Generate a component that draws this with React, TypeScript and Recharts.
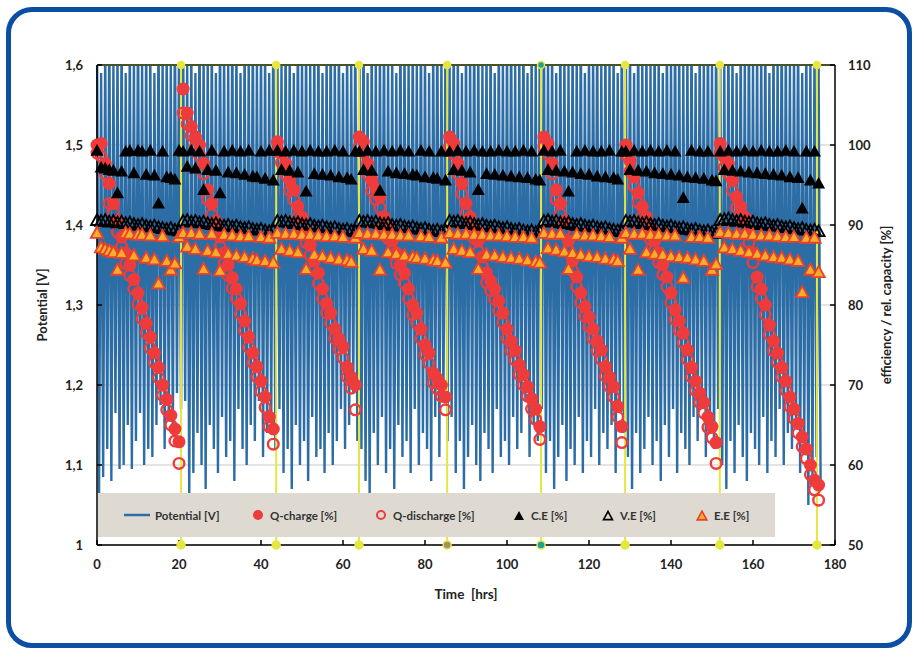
import React from 'react';
import { ComposedChart, Line, Scatter, XAxis, YAxis, CartesianGrid, ReferenceLine, ReferenceDot } from 'recharts';

// one cycle per hour; index = time [hrs]
const potentialPeak = [
  1.64, 1.59, 1.63, 1.66, 1.60, 1.62, 1.65, 1.59, 1.63, 1.61, 1.66, 1.60, 1.64, 1.62, 1.59, 1.65, 1.61, 1.63, 1.60, 1.66, 1.62,
  1.65, 1.60, 1.63, 1.59, 1.66, 1.62, 1.61, 1.64, 1.59, 1.65, 1.62, 1.60, 1.66, 1.63, 1.59, 1.64, 1.61, 1.65, 1.60, 1.63, 1.62, 1.59, 1.66,
  1.63, 1.60, 1.65, 1.62, 1.59, 1.66, 1.61, 1.64, 1.60, 1.63, 1.65, 1.59, 1.62, 1.66, 1.61, 1.64, 1.59, 1.63, 1.60, 1.65,
  1.62, 1.66, 1.59, 1.64, 1.61, 1.63, 1.65, 1.60, 1.62, 1.59, 1.66, 1.63, 1.61, 1.64, 1.60, 1.65, 1.62, 1.59, 1.63, 1.66, 1.61, 1.64,
  1.60, 1.65, 1.62, 1.59, 1.64, 1.61, 1.66, 1.63, 1.60, 1.62, 1.65, 1.59, 1.64, 1.61, 1.63, 1.66, 1.60, 1.62, 1.65, 1.59, 1.63, 1.61, 1.64,
  1.66, 1.61, 1.63, 1.59, 1.65, 1.62, 1.60, 1.64, 1.61, 1.66, 1.59, 1.63, 1.62, 1.65, 1.60, 1.64, 1.61, 1.63, 1.59, 1.65,
  1.62, 1.64, 1.59, 1.66, 1.61, 1.63, 1.60, 1.65, 1.62, 1.59, 1.64, 1.61, 1.66, 1.63, 1.60, 1.62, 1.65, 1.59, 1.63, 1.61, 1.66, 1.60, 1.64,
  1.63, 1.60, 1.65, 1.62, 1.59, 1.64, 1.61, 1.66, 1.60, 1.63, 1.62, 1.65, 1.59, 1.64, 1.61, 1.66, 1.63, 1.60, 1.62, 1.65, 1.59, 1.64, 1.61, 1.63, 1.60,
];

const potentialMin = [
  1.065, 1.085, 1.12, 1.08, 1.165, 1.095, 1.10, 1.15, 1.095, 1.13, 1.165, 1.10, 1.12, 1.11, 1.15, 1.175, 1.12, 1.16, 1.14, 1.19, 1.17,
  1.18, 1.06, 1.09, 1.14, 1.10, 1.07, 1.15, 1.12, 1.09, 1.16, 1.11, 1.13, 1.08, 1.17, 1.12, 1.10, 1.15, 1.13, 1.18, 1.11, 1.14, 1.16, 1.12,
  1.17, 1.09, 1.12, 1.07, 1.15, 1.10, 1.13, 1.08, 1.16, 1.11, 1.12, 1.09, 1.14, 1.10, 1.13, 1.17, 1.12, 1.15, 1.19, 1.13,
  1.12, 1.08, 1.06, 1.14, 1.10, 1.16, 1.09, 1.12, 1.07, 1.15, 1.11, 1.13, 1.09, 1.17, 1.10, 1.14, 1.12, 1.08, 1.16, 1.11, 1.18, 1.13,
  1.16, 1.09, 1.13, 1.07, 1.11, 1.15, 1.10, 1.08, 1.14, 1.12, 1.09, 1.17, 1.11, 1.13, 1.10, 1.16, 1.12, 1.14, 1.18, 1.11, 1.15, 1.13, 1.17,
  1.09, 1.13, 1.07, 1.11, 1.15, 1.08, 1.12, 1.10, 1.16, 1.09, 1.13, 1.11, 1.17, 1.10, 1.14, 1.12, 1.15, 1.09, 1.18, 1.14,
  1.11, 1.07, 1.14, 1.09, 1.12, 1.16, 1.10, 1.13, 1.08, 1.15, 1.11, 1.17, 1.09, 1.14, 1.12, 1.10, 1.16, 1.13, 1.18, 1.11, 1.15, 1.12, 1.17,
  1.10, 1.07, 1.13, 1.09, 1.15, 1.11, 1.08, 1.14, 1.12, 1.10, 1.16, 1.09, 1.13, 1.11, 1.17, 1.10, 1.14, 1.12, 1.15, 1.09, 1.13, 1.05, 1.08, 1.11, 1.07,
];

const qCharge = [
  100.0, 100.2, 97.7, 95.2, 92.7, 90.5, 88.5, 86.5, 85.0, 83.2, 81.5, 79.7, 77.7, 76.0, 74.0, 72.2, 70.0, 68.2, 66.2, 64.5, 62.9,
  107.0, 104.0, 102.3, 101.0, 100.0, 97.7, 94.4, 92.7, 90.5, 88.5, 86.5, 85.0, 83.4, 82.0, 80.2, 78.0, 76.0, 74.0, 72.3, 70.5, 68.5, 66.0, 64.5,
  100.4, 99.0, 97.7, 95.6, 94.4, 92.3, 91.0, 89.0, 87.5, 85.5, 84.0, 82.0, 80.2, 79.0, 77.0, 75.8, 74.8, 72.2, 71.0, 70.0,
  101.0, 100.4, 97.7, 95.6, 94.5, 93.5, 91.0, 89.5, 88.0, 86.5, 85.0, 84.0, 82.0, 80.0, 79.0, 77.0, 75.0, 74.0, 71.5, 70.8, 70.0, 68.5,
  101.0, 100.2, 97.7, 95.2, 92.7, 91.0, 89.5, 88.0, 86.0, 84.0, 83.0, 82.0, 80.5, 79.0, 77.0, 75.5, 74.3, 72.5, 71.3, 69.8, 68.3, 67.0, 64.8,
  101.0, 100.2, 97.7, 94.4, 92.7, 90.5, 88.0, 85.5, 83.5, 81.5, 79.8, 78.5, 77.0, 75.5, 74.4, 72.3, 71.0, 69.8, 67.3, 64.8,
  100.0, 98.0, 96.0, 94.0, 92.3, 91.0, 89.5, 88.0, 86.5, 85.0, 83.5, 81.5, 79.4, 78.0, 76.5, 74.4, 72.2, 70.5, 69.0, 67.8, 66.0, 64.8, 62.8,
  100.2, 98.5, 97.7, 95.6, 93.5, 92.3, 91.0, 89.0, 86.5, 83.5, 82.0, 80.0, 77.5, 75.5, 74.0, 72.2, 70.5, 68.5, 67.0, 65.2, 63.5, 62.0, 60.0, 58.1, 57.5,
];

const qDischarge = [
  99.0, 98.6, 96.4, 92.7, 91.5, 89.1, 87.3, 85.2, 83.7, 82.0, 80.1, 78.3, 76.5, 74.6, 72.8, 70.9, 68.7, 66.9, 65.0, 63.0, 60.2,
  104.0, 102.6, 101.2, 99.8, 98.7, 96.4, 93.2, 91.3, 89.2, 87.3, 85.2, 83.7, 82.1, 80.8, 78.9, 76.8, 74.7, 72.8, 71.0, 69.2, 67.2, 64.8, 62.6,
  99.2, 97.8, 96.3, 94.3, 93.1, 91.0, 89.7, 87.8, 86.2, 84.3, 82.7, 80.8, 79.0, 77.7, 75.8, 74.5, 73.4, 71.0, 69.6, 66.9,
  99.8, 99.1, 96.4, 94.3, 93.2, 92.2, 89.8, 88.3, 86.8, 85.2, 83.8, 82.7, 80.8, 78.8, 77.7, 75.8, 73.8, 72.7, 70.3, 69.5, 68.6, 66.9,
  99.8, 98.9, 96.4, 93.9, 91.5, 89.7, 88.3, 86.7, 84.8, 82.8, 81.8, 80.7, 79.3, 77.8, 75.8, 74.3, 73.1, 71.3, 70.0, 68.6, 67.0, 65.7, 63.2,
  99.8, 98.9, 96.4, 93.2, 91.4, 89.3, 86.8, 84.3, 82.3, 80.3, 78.6, 77.3, 75.8, 74.3, 73.2, 71.1, 69.8, 68.5, 66.0, 62.8,
  98.8, 96.7, 94.8, 92.8, 91.0, 89.7, 88.2, 86.8, 85.3, 83.8, 82.3, 80.3, 78.2, 76.8, 75.3, 73.2, 71.0, 69.3, 67.8, 66.5, 64.7, 63.4, 60.2,
  99.0, 97.2, 96.4, 94.3, 92.2, 91.0, 89.7, 87.8, 85.3, 82.3, 80.8, 78.8, 76.3, 74.3, 72.8, 71.0, 69.3, 67.3, 65.8, 64.0, 62.3, 60.8, 58.8, 56.9, 55.6,
];

const coulombEff = [
  99.3, 97.2, 97.1, 96.9, 96.8, 94.0, 96.7, 99.2, 99.3, 96.5, 99.3, 99.2, 96.3, 99.3, 96.2, 92.7, 99.2, 96.0, 95.9, 95.7, 99.3,
  99.2, 97.3, 99.3, 97.1, 99.2, 94.4, 96.9, 99.3, 96.8, 94.0, 99.2, 96.6, 99.3, 96.5, 99.2, 96.3, 99.3, 96.1, 96.0, 99.2, 95.8, 99.3, 95.6,
  99.3, 96.9, 99.2, 96.8, 99.3, 96.6, 99.2, 94.2, 99.3, 96.4, 99.2, 96.3, 99.2, 96.2, 99.3, 96.0, 99.2, 95.9, 95.7, 99.2,
  99.2, 96.9, 99.3, 96.8, 99.2, 94.3, 99.3, 96.7, 99.2, 96.5, 99.3, 96.4, 99.2, 96.3, 96.2, 99.3, 96.0, 99.2, 95.9, 95.8, 99.2, 95.6,
  99.2, 96.9, 99.3, 96.8, 99.2, 96.6, 99.3, 94.4, 99.2, 96.4, 99.2, 96.3, 99.3, 96.2, 99.2, 96.1, 99.2, 96.0, 99.3, 95.9, 99.2, 95.7, 95.6,
  99.3, 96.9, 99.2, 96.8, 99.3, 96.7, 94.2, 96.6, 99.2, 96.4, 99.3, 96.3, 99.2, 96.1, 99.2, 96.0, 99.3, 95.9, 95.7, 99.2,
  99.2, 96.9, 99.3, 96.8, 99.2, 96.7, 99.3, 96.5, 99.2, 96.4, 99.3, 96.3, 99.2, 96.2, 93.4, 96.0, 99.3, 95.9, 99.2, 95.8, 99.2, 95.6, 95.5,
  99.2, 96.9, 99.3, 96.8, 99.2, 96.7, 99.3, 96.6, 99.2, 96.5, 99.3, 96.4, 99.2, 96.3, 99.2, 96.2, 99.3, 96.0, 99.2, 95.9, 92.1, 99.2, 95.6, 99.2, 95.2,
];

const voltageEff = [
  90.6, 90.5, 90.6, 90.4, 90.5, 90.3, 90.4, 90.2, 90.3, 90.1, 90.0, 90.1, 89.9, 89.8, 89.9, 89.7, 89.6, 89.5, 89.6, 89.4, 89.3,
  90.5, 90.6, 90.4, 90.5, 90.3, 90.4, 90.2, 90.1, 90.2, 90.0, 89.9, 90.0, 89.8, 89.9, 89.7, 89.6, 89.7, 89.5, 89.4, 89.5, 89.3, 89.2, 89.3,
  90.5, 90.4, 90.5, 90.3, 90.2, 90.3, 90.1, 90.0, 90.1, 89.9, 89.8, 89.9, 89.7, 89.6, 89.7, 89.5, 89.4, 89.5, 89.3, 89.2,
  90.5, 90.4, 90.5, 90.3, 90.4, 90.2, 90.1, 90.2, 90.0, 89.9, 90.0, 89.8, 89.7, 89.8, 89.6, 89.5, 89.6, 89.4, 89.3, 89.4, 89.2, 89.3,
  90.5, 90.4, 90.5, 90.3, 90.2, 90.3, 90.1, 90.0, 90.1, 89.9, 89.8, 89.9, 89.7, 89.6, 89.7, 89.5, 89.4, 89.5, 89.3, 89.2, 89.3, 89.1, 89.2,
  90.5, 90.6, 90.4, 90.5, 90.3, 90.2, 90.3, 90.1, 90.0, 90.1, 89.9, 89.8, 89.9, 89.7, 89.6, 89.7, 89.5, 89.4, 89.3, 89.2,
  90.5, 90.4, 90.5, 90.3, 90.2, 90.3, 90.1, 90.0, 90.1, 89.9, 89.8, 89.9, 89.7, 89.6, 89.7, 89.5, 89.4, 89.5, 89.3, 89.2, 89.3, 89.1, 89.0,
  90.6, 90.7, 90.8, 90.6, 90.5, 90.6, 90.4, 90.3, 90.4, 90.2, 90.1, 90.2, 90.0, 89.9, 90.0, 89.8, 89.7, 89.8, 89.6, 89.5, 89.6, 89.4, 89.3, 89.4, 89.2,
];

const energyEff = [
  89.0, 87.2, 87.0, 86.8, 86.6, 84.4, 86.5, 89.0, 88.9, 86.2, 88.8, 88.8, 85.9, 88.7, 85.7, 82.7, 88.6, 85.5, 84.4, 85.2, 88.5,
  89.0, 87.3, 89.0, 87.0, 88.9, 84.5, 86.8, 88.9, 86.6, 84.3, 88.8, 86.4, 88.7, 86.2, 88.6, 86.0, 88.6, 85.8, 85.6, 88.5, 85.5, 88.4, 85.3,
  89.0, 87.0, 88.9, 86.8, 88.9, 86.6, 88.8, 84.5, 88.8, 86.3, 88.7, 86.1, 88.6, 85.9, 88.6, 85.7, 88.5, 85.6, 85.4, 88.4,
  89.0, 87.0, 88.9, 86.8, 88.9, 84.4, 88.8, 86.6, 88.8, 86.4, 88.7, 86.2, 88.7, 86.0, 85.9, 88.6, 85.8, 88.5, 85.6, 85.5, 88.4, 85.3,
  89.0, 87.0, 88.9, 86.8, 88.9, 86.6, 88.8, 84.5, 88.8, 86.3, 88.7, 86.2, 88.7, 86.0, 88.6, 85.9, 88.5, 85.8, 88.5, 85.6, 88.4, 85.4, 85.3,
  89.0, 87.1, 88.9, 86.9, 88.9, 86.7, 84.5, 86.5, 88.8, 86.3, 88.7, 86.1, 88.7, 86.0, 88.6, 85.8, 88.5, 85.7, 85.5, 88.4,
  89.0, 87.0, 88.9, 84.4, 88.9, 86.6, 88.8, 86.4, 88.8, 86.3, 88.7, 86.1, 88.7, 86.0, 83.4, 85.9, 88.5, 85.7, 88.5, 85.5, 88.4, 84.4, 85.1,
  89.1, 87.2, 89.0, 87.0, 88.9, 86.8, 88.9, 86.6, 88.8, 86.4, 88.7, 86.2, 88.7, 86.0, 88.6, 85.9, 88.5, 85.7, 88.5, 85.5, 81.6, 88.4, 84.4, 88.4, 84.1,
];

const potentialTicks = [1, 1.1, 1.2, 1.3, 1.4, 1.5, 1.6];
const percentTicks = [50, 60, 70, 80, 90, 100, 110];
const timeTicks = [0, 20, 40, 60, 80, 100, 120, 140, 160, 180];
const weekMarks = [20.5, 43.7, 63.9, 85.4, 108.3, 128.8, 151.9, 175.6];

const potentialData = potentialMin.flatMap((low, i) => [
  { t: i, v: potentialPeak[i] },
  { t: i + 0.5, v: low },
]);
const toPoints = (arr: number[]) => arr.map((v, i) => ({ t: i, v }));

const BLUE = '#2d6da6';
const RED = '#ee3b3b';
const ORANGE = '#f7ad2a';
const YELLOW = '#e6e640';

const triPoints = (cx: number, cy: number, s: number) =>
  `${cx},${cy - s} ${cx - s},${cy + s * 0.8} ${cx + s},${cy + s * 0.8}`;

const FilledDot = (p: any) => <circle cx={p.cx} cy={p.cy} r={6.5} fill={RED} />;
const HollowDot = (p: any) => (
  <circle cx={p.cx} cy={p.cy} r={5.3} fill="none" stroke={RED} strokeWidth={2.4} />
);
const BlackTri = (p: any) => <polygon points={triPoints(p.cx, p.cy, 6.5)} fill="#000" />;
const HollowTri = (p: any) => (
  <polygon points={triPoints(p.cx, p.cy, 6)} fill="none" stroke="#000" strokeWidth={1.8} />
);
const OrangeTri = (p: any) => (
  <polygon points={triPoints(p.cx, p.cy, 6.2)} fill={ORANGE} stroke="#e8412d" strokeWidth={1.8} />
);

const tickStyle = { fontSize: 13, fontWeight: 700, fill: '#222', fontFamily: 'Lato, sans-serif' };
const axisStyle = { stroke: '#000', strokeWidth: 1.5 };

const legendItems = [
  { label: 'Potential [V]', icon: 'line', x: 124 },
  { label: 'Q-charge [%]', icon: 'dot', x: 251 },
  { label: 'Q-discharge [%]', icon: 'ring', x: 374 },
  { label: 'C.E [%]', icon: 'tri', x: 512 },
  { label: 'V.E [%]', icon: 'otri', x: 601 },
  { label: 'E.E [%]', icon: 'etri', x: 695 },
];

const LegendIcon = ({ kind }: { kind: string }) => {
  const w = kind === 'line' ? 26 : 14;
  return (
    <svg width={w} height={14} style={{ marginRight: 5, flex: 'none' }}>
      {kind === 'line' && <line x1={0} y1={7} x2={26} y2={7} stroke={BLUE} strokeWidth={2.5} />}
      {kind === 'dot' && <circle cx={7} cy={7} r={5} fill={RED} />}
      {kind === 'ring' && <circle cx={7} cy={7} r={4} fill="none" stroke={RED} strokeWidth={2} />}
      {kind === 'tri' && <polygon points={triPoints(7, 8, 5)} fill="#000" />}
      {kind === 'otri' && <polygon points={triPoints(7, 8, 4.5)} fill="none" stroke="#000" strokeWidth={1.6} />}
      {kind === 'etri' && <polygon points={triPoints(7, 8, 4.8)} fill={ORANGE} stroke="#e8412d" strokeWidth={1.6} />}
    </svg>
  );
};

export default function App() {
  return (
    <div style={{ position: 'absolute', left: 0, top: 0, width: 913, height: 649, background: '#fff', overflow: 'hidden', fontFamily: 'Lato, sans-serif' }}>
      <div style={{ position: 'absolute', left: 0, top: 0 }}>
        <ComposedChart width={913} height={649} margin={{ top: 65, right: 18, bottom: 74, left: 37 }}>
          <CartesianGrid yAxisId="left" vertical={false} stroke="#c9c9c9" strokeWidth={1} />
          <XAxis
            type="number"
            dataKey="t"
            domain={[0, 180]}
            ticks={timeTicks}
            height={30}
            tick={tickStyle}
            tickSize={-5}
            tickMargin={20}
            tickLine={axisStyle}
            axisLine={axisStyle}
          />
          <YAxis
            yAxisId="left"
            domain={[1, 1.6]}
            ticks={potentialTicks}
            allowDataOverflow
            width={60}
            tick={tickStyle}
            tickSize={-5}
            tickMargin={19}
            tickLine={axisStyle}
            axisLine={axisStyle}
            tickFormatter={(v: number) => (v === 1 ? '1' : v.toFixed(1).replace('.', ','))}
          />
          <YAxis
            yAxisId="right"
            orientation="right"
            domain={[50, 110]}
            ticks={percentTicks}
            allowDataOverflow
            width={60}
            tick={tickStyle}
            tickSize={-5}
            tickMargin={18}
            tickLine={axisStyle}
            axisLine={axisStyle}
          />
          <Line
            yAxisId="left"
            data={potentialData}
            dataKey="v"
            stroke={BLUE}
            strokeWidth={2.4}
            dot={false}
            activeDot={false}
            isAnimationActive={false}
          />
          {weekMarks.map((m) => (
            <ReferenceLine key={`w${m}`} yAxisId="left" x={m} stroke={YELLOW} strokeWidth={2} />
          ))}
          <ReferenceLine yAxisId="left" y={1.6} stroke="#48522a" strokeWidth={2} />
          <Scatter yAxisId="right" data={toPoints(qCharge)} dataKey="v" shape={FilledDot} isAnimationActive={false} />
          <Scatter yAxisId="right" data={toPoints(qDischarge)} dataKey="v" shape={HollowDot} isAnimationActive={false} />
          <Scatter yAxisId="right" data={toPoints(coulombEff)} dataKey="v" shape={BlackTri} isAnimationActive={false} />
          <Scatter yAxisId="right" data={toPoints(voltageEff)} dataKey="v" shape={HollowTri} isAnimationActive={false} />
          <Scatter yAxisId="right" data={toPoints(energyEff)} dataKey="v" shape={OrangeTri} isAnimationActive={false} />
          {weekMarks.map((m, i) => (
            <ReferenceDot
              key={`b${m}`}
              yAxisId="left"
              x={m}
              y={1}
              r={4}
              fill={i === 4 ? '#18a39b' : i === 3 ? '#a3906a' : YELLOW}
              stroke={YELLOW}
              strokeWidth={1.5}
              ifOverflow="visible"
            />
          ))}
          {weekMarks.map((m, i) => (
            <ReferenceDot
              key={`t${m}`}
              yAxisId="left"
              x={m}
              y={1.6}
              r={3.5}
              fill={i === 4 ? '#18a39b' : YELLOW}
              stroke={YELLOW}
              strokeWidth={1.5}
              ifOverflow="visible"
            />
          ))}
        </ComposedChart>
      </div>

      {/* legend box sits inside the plot area */}
      <div style={{ position: 'absolute', left: 98, top: 493, width: 677, height: 44, background: '#dedad1' }}>
        {legendItems.map((it) => (
          <div
            key={it.label}
            style={{ position: 'absolute', left: it.x - 98, top: 15, display: 'flex', alignItems: 'center', fontSize: 11.5, fontWeight: 700, color: '#333', whiteSpace: 'nowrap' }}
          >
            <LegendIcon kind={it.icon} />
            {it.label}
          </div>
        ))}
      </div>

      <div style={{ position: 'absolute', left: 42, top: 305, transform: 'translate(-50%, -50%) rotate(-90deg)', fontSize: 13, fontWeight: 700, color: '#222', whiteSpace: 'nowrap' }}>
        Potential [V]
      </div>
      <div style={{ position: 'absolute', left: 886, top: 305, transform: 'translate(-50%, -50%) rotate(-90deg)', fontSize: 13, fontWeight: 700, color: '#222', whiteSpace: 'nowrap' }}>
        efficiency / rel. capacity [%]
      </div>
      <div style={{ position: 'absolute', left: 466, top: 594, transform: 'translate(-50%, -50%)', fontSize: 13.5, fontWeight: 700, color: '#222', whiteSpace: 'pre' }}>
        {'Time  [hrs]'}
      </div>

      <div style={{ position: 'absolute', left: 6, top: 7, width: 906, height: 641, border: '5px solid #0b4ea2', borderRadius: 26, boxSizing: 'border-box', pointerEvents: 'none' }} />
    </div>
  );
}
